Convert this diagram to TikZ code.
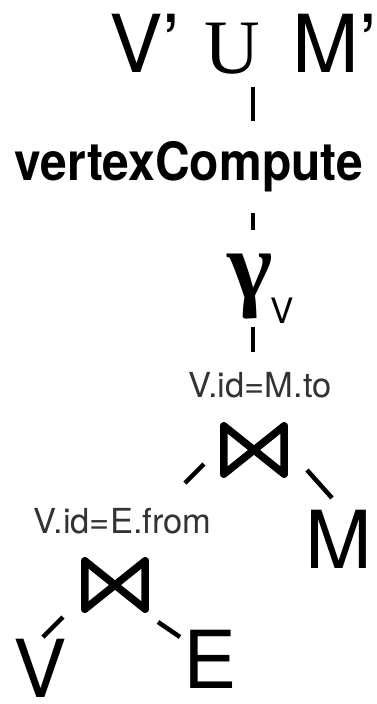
\documentclass[tikz,border=0pt]{standalone}
\usepackage{fontspec}
\setmainfont{TeX Gyre Heros}
\newfontfamily\timesf{Liberation Serif}
\usetikzlibrary{calc}

\tikzset{
  txt/.style={inner sep=0pt, anchor=base, text=black},
  big/.style={txt, font=\fontsize{80}{80}\selectfont},
  cond/.style={txt, text=black!80, font=\fontsize{34.5}{34.5}\selectfont},
  edge/.style={line width=4.5pt, line cap=butt, black},
  joinbox/.style={inner sep=0pt, minimum width=68pt, minimum height=56pt},
  bowtie/.style={line width=7.5pt, line join=round, line cap=round, black}
}

% draws the join symbol inside a named join box
\newcommand{\bowtieat}[1]{%
  \draw[bowtie] ($(#1.north west)+(4,4)$) -- ($(#1.south west)+(4,-4)$)
    -- ($(#1.north east)+(-4,4)$) -- ($(#1.south east)+(-4,-4)$)
    -- cycle;
}

\begin{document}
\begin{tikzpicture}[x=1pt, y=-1pt]
  \useasboundingbox (0,0) rectangle (377,704);

  % union of the two results
  \node[big] (vp)  at (145,72) {V’};
  \node[txt, font=\timesf\fontsize{77}{77}\selectfont] (cup) at (232.5,73) {U};
  \node[big] (mp)  at (335,72) {M’};

  \node[txt, font=\bfseries\fontsize{48}{48}\selectfont] (vc) at (189,180)
    {\scalebox{1}[1.1]{vertexCompute}};

  \node[txt, anchor=base west] (gam) at (227.5,298)
    {{\timesf\bfseries\fontsize{97}{97}\selectfont γ}\kern-2.5pt\raisebox{-25pt}{\fontsize{35}{35}\selectfont V}};

  \node[cond] (lbl1) at (260,397) {V.id=M.to};
  \node[joinbox] (j1) at (254,450) {};
  \bowtieat{j1}

  \node[big] (m) at (339,568) {M};

  \node[cond] (lbl2) at (122.5,533) {V.id=E.from};
  \node[joinbox] (j2) at (115,585) {};
  \bowtieat{j2}

  \node[big] (v) at (40,697) {V};
  \node[big] (e) at (210,688) {E};

  % plan edges
  \draw[edge] ($(cup.base)+(20.5,14)$) -- ($(vc.base)+(64,-59)$);
  \draw[edge] ($(vc.base)+(64,33)$) -- ($(gam.base west)+(25.5,-68)$);
  \draw[edge] ($(gam.base west)+(25.5,29)$) -- ($(lbl1.base)+(-7,-45)$);
  \draw[edge] ($(j1)+(-50,14)$) -- ($(lbl2.base)+(62.5,-50)$);
  \draw[edge] ($(j1)+(53,20)$) -- ($(m.base)+(-7,-70)$);
  \draw[edge] ($(j2)+(-52,32)$) -- ($(v.base)+(3,-60)$);
  \draw[edge] ($(j2)+(43,37)$) -- ($(e.base)+(-30,-51)$);
\end{tikzpicture}
\end{document}
